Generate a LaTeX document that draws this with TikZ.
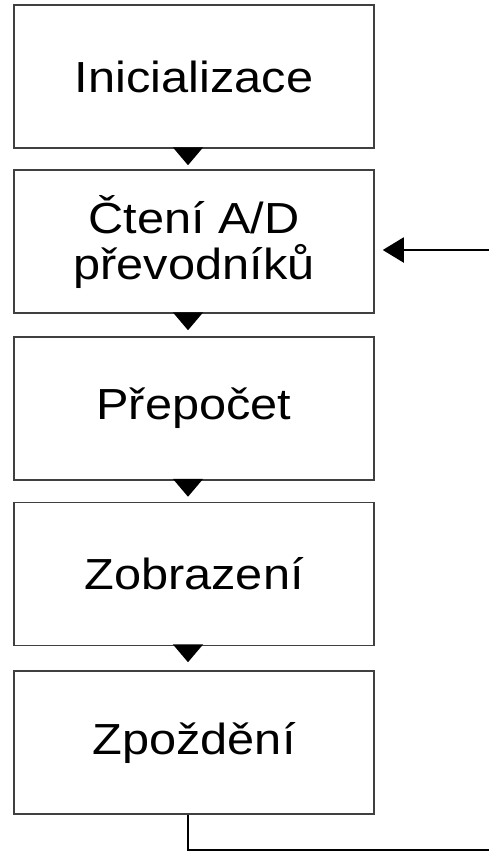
\documentclass[tikz,border=0pt]{standalone}
\usepackage{fontspec}
\setmainfont[FakeStretch=1.12]{Liberation Sans}
\usetikzlibrary{arrows.meta}
\begin{document}
\begin{tikzpicture}[x=1pt,y=1pt,
  box/.style={draw=black!75, line width=1.5pt, minimum width=360pt, minimum height=143pt,
    inner sep=0pt, font=\fontsize{43.5}{46}\selectfont, align=center},
  flow/.style={draw=black, line width=2pt, -{Triangle[length=18pt,width=30pt]}},
  back/.style={draw=black, line width=2pt, -{Triangle[length=21pt,width=25pt]}, shorten >=8pt}]
\useasboundingbox (0,0) rectangle (488,-852);
\node[box] (b1) at (194,-76.5) {Inicializace};
\node[box] (b2) at (194,-241.5) {Čtení A/D\\převodníků};
\node[box] (b3) at (194,-408.5) {Přepočet};
\node[box] (b4) at (194,-574) {Zobrazení};
\node[box] (b5) at (194,-742.5) {Zpoždění};
\foreach \a/\b/\s in {b1/b2/4pt,b2/b3/6pt,b3/b4/5pt,b4/b5/8pt}
  \draw[flow, shorten >=\s] ([xshift=-6pt]\a.south) -- ([xshift=-6pt]\b.north);
\coordinate (r1) at (530,-850);
\coordinate (r2) at (530,-250);
\draw[back] ([xshift=-6pt]b5.south) |- (r1) -- (r2) -- (b2.east |- r2);
\end{tikzpicture}
\end{document}
